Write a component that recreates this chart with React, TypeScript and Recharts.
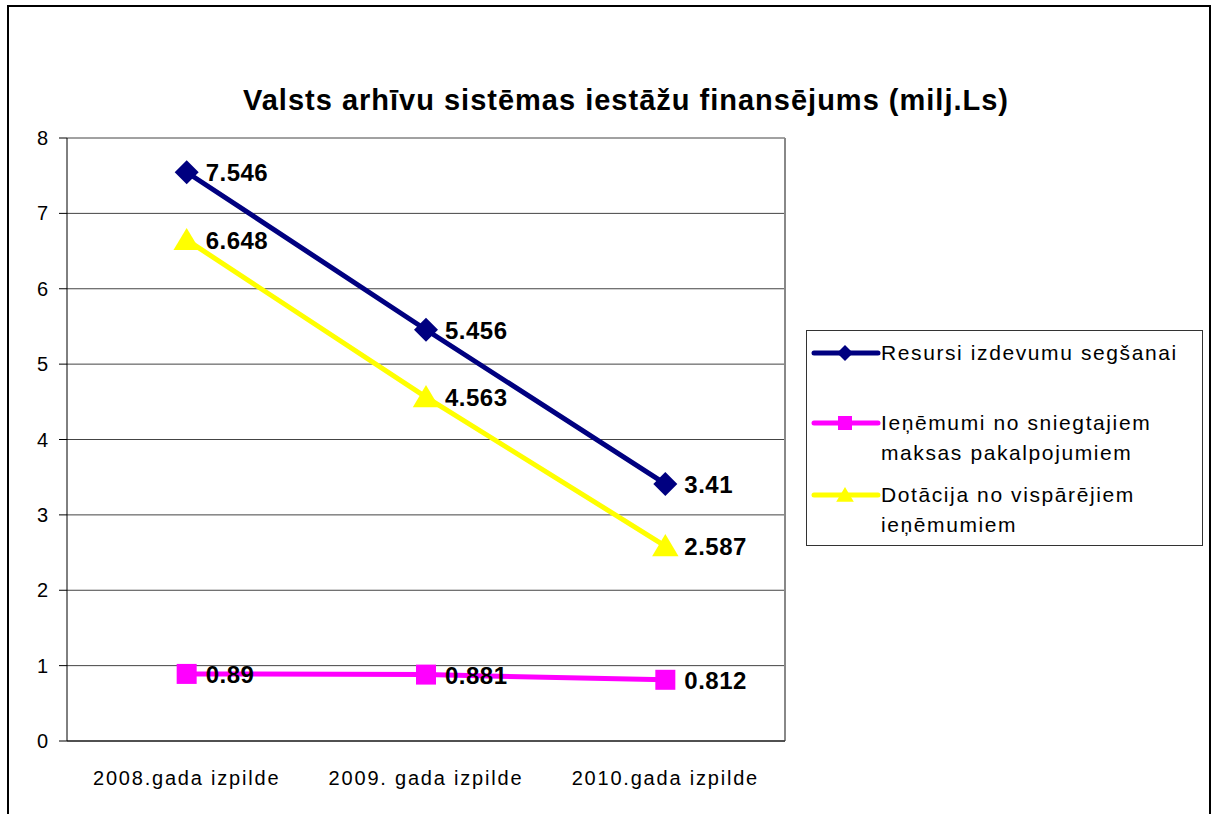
import { LineChart, Line, XAxis, YAxis, CartesianGrid, LabelList, ReferenceLine } from 'recharts'

const categories = ['2008.gada izpilde', '2009. gada izpilde', '2010.gada izpilde']
const resursi = [7.546, 5.456, 3.41]
const ienemumi = [0.89, 0.881, 0.812]
const dotacija = [6.648, 4.563, 2.587]
const yTicks = [0, 1, 2, 3, 4, 5, 6, 7, 8]
const bandTicks = [0, 1, 2, 3]

const series = [
  { key: 'resursi', name: 'Resursi izdevumu segšanai', color: '#000080', shape: 'diamond' },
  { key: 'ienemumi', name: 'Ieņēmumi no sniegtajiem\nmaksas pakalpojumiem', color: '#FF00FF', shape: 'square' },
  { key: 'dotacija', name: 'Dotācija no vispārējiem\nieņēmumiem', color: '#FFFF00', shape: 'triangle' },
]

const data = categories.map((name, i) => ({
  pos: i + 0.5,
  name,
  resursi: resursi[i],
  ienemumi: ienemumi[i],
  dotacija: dotacija[i],
}))

const font = '"Liberation Sans", Arial, sans-serif'

function markerPath(shape: string, cx: number, cy: number, s: number) {
  if (shape === 'diamond') return `M${cx},${cy - s} L${cx + s},${cy} L${cx},${cy + s} L${cx - s},${cy} Z`
  if (shape === 'square') return `M${cx - s},${cy - s} L${cx + s},${cy - s} L${cx + s},${cy + s} L${cx - s},${cy + s} Z`
  return `M${cx},${cy - s} L${cx + s * 1.1},${cy + s * 0.85} L${cx - s * 1.1},${cy + s * 0.85} Z`
}

const dotSize: Record<string, number> = { diamond: 12, square: 10, triangle: 12 }

function makeDot(shape: string, color: string) {
  return (p: any) => (
    <path key={`${shape}-${p.index}`} d={markerPath(shape, p.cx, p.cy, dotSize[shape])} fill={color} />
  )
}

function valueLabel(p: any) {
  return (
    <text
      x={p.x + 19}
      y={p.y + 9}
      fontSize={24}
      fontWeight="bold"
      fontFamily={font}
      letterSpacing={0.5}
      fill="#000"
    >
      {String(p.value)}
    </text>
  )
}

function LegendBox() {
  return (
    <div
      style={{
        position: 'absolute',
        left: 806,
        top: 330,
        width: 395,
        height: 214,
        border: '1px solid #333',
        background: '#fff',
        fontFamily: font,
        fontSize: 21,
      }}
    >
      {series.map((s, i) => (
        <div
          key={s.key}
          style={{ position: 'absolute', left: 4, top: [7, 77, 149][i], display: 'flex', alignItems: 'flex-start' }}
        >
          <svg width={70} height={30} style={{ flex: 'none' }}>
            <line x1={3} y1={15} x2={67} y2={15} stroke={s.color} strokeWidth={5} strokeLinecap="round" />
            <path d={markerPath(s.shape, 34, 15, s.shape === 'square' ? 7 : 8)} fill={s.color} />
          </svg>
          <div style={{ whiteSpace: 'pre', lineHeight: '30px', letterSpacing: 1.6 }}>{s.name}</div>
        </div>
      ))}
    </div>
  )
}

export default function App() {
  return (
    <div style={{ position: 'absolute', left: 0, top: 0, width: 1212, height: 814, background: '#fff', overflow: 'hidden' }}>
      <div
        style={{
          position: 'absolute',
          left: 7,
          top: 5,
          width: 1200,
          height: 830,
          border: '2px solid #000',
        }}
      />
      <div
        style={{
          position: 'absolute',
          left: 0,
          width: 1252,
          top: 84,
          textAlign: 'center',
          fontFamily: font,
          fontWeight: 'bold',
          fontSize: 29,
          letterSpacing: 1,
        }}
      >
        Valsts arhīvu sistēmas iestāžu finansējums (milj.Ls)
      </div>
      <div style={{ position: 'absolute', left: 0, top: 0 }}>
        <LineChart width={1212} height={814} data={data} margin={{ top: 138, right: 427, left: 7, bottom: 25 }}>
          <CartesianGrid vertical={false} stroke="#444" strokeWidth={1} />
          <ReferenceLine x={3} stroke="#888" strokeWidth={2} />
          <XAxis
            type="number"
            dataKey="pos"
            domain={[0, 3]}
            ticks={bandTicks}
            tick={false}
            tickSize={8}
            height={8}
            stroke="#000"
          />
          <XAxis
            xAxisId="lbl"
            type="number"
            dataKey="pos"
            domain={[0, 3]}
            ticks={data.map((d) => d.pos)}
            tickFormatter={(v: number) => categories[Math.floor(v)]}
            axisLine={false}
            tickLine={false}
            height={40}
            tick={{ fontSize: 20, fill: '#000', fontFamily: font, dy: 14, letterSpacing: 1.8 }}
          />
          <YAxis
            type="number"
            domain={[0, 8]}
            ticks={yTicks}
            width={60}
            tickSize={8}
            tickMargin={11}
            stroke="#000"
            tick={{ fontSize: 20, fill: '#000', fontFamily: font }}
          />
          {series.map((s) => (
            <Line
              key={s.key}
              dataKey={s.key}
              name={s.name}
              stroke={s.color}
              strokeWidth={5}
              dot={makeDot(s.shape, s.color)}
              activeDot={false}
              isAnimationActive={false}
            >
              <LabelList dataKey={s.key} content={valueLabel} />
            </Line>
          ))}
        </LineChart>
      </div>
      <LegendBox />
    </div>
  )
}
